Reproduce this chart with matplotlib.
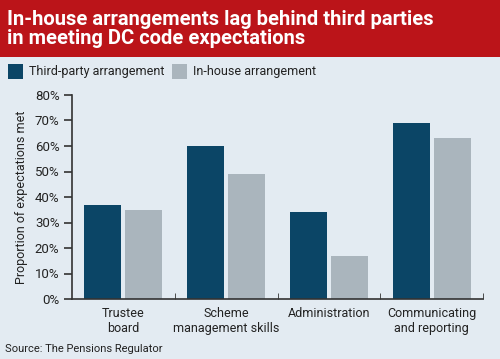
import matplotlib.pyplot as plt
from matplotlib.patches import Rectangle
import numpy as np

categories = ['Trustee\nboard', 'Scheme\nmanagement skills', 'Administration', 'Communicating\nand reporting']
third_party = [37, 60, 34, 69]
in_house = [35, 49, 17, 63]
yticks = [0, 10, 20, 30, 40, 50, 60, 70, 80]

bg = '#e3ebf2'
red = '#bb1419'
dark = '#0b4566'
grey = '#aab5bd'
txt = '#222222'

plt.rcParams['font.family'] = ['Roboto', 'DejaVu Sans']

fig = plt.figure(figsize=(5, 3.59), dpi=100, facecolor=bg)

# title bar
fig.patches.append(Rectangle((0, 1 - 57/359), 1, 57/359, transform=fig.transFigure,
                             facecolor=red, edgecolor='none'))
fig.text(7/500, 1 - 29/359, 'In-house arrangements lag behind third parties\nin meeting DC code expectations',
         color='white', fontsize=14.5, fontweight='bold', va='center', ha='left', linespacing=1.05)

# legend
for x0, col, lab in [(8, dark, 'Third-party arrangement'), (172, grey, 'In-house arrangement')]:
    fig.patches.append(Rectangle((x0/500, 1 - 79/359), 15/500, 15/359, transform=fig.transFigure,
                                 facecolor=col, edgecolor='none'))
    fig.text((x0 + 21)/500, 1 - 71/359, lab, fontsize=9, color=txt, va='center', ha='left')

ax = fig.add_axes([72/500, 1 - 299/359, 411/500, 204/359])
ax.set_facecolor(bg)

x = np.arange(len(categories)) + 0.5
w = 0.36
ax.bar(x - 0.2, third_party, w, color=dark)
ax.bar(x + 0.2, in_house, w, color=grey)

ax.set_xlim(0, 4)
ax.set_ylim(0, 80)
ax.set_yticks(yticks)
ax.set_yticklabels([f'{v}%' for v in yticks], fontsize=9.5, color=txt)
ax.set_xticks(x)
ax.set_xticklabels(categories, fontsize=9, color=txt, linespacing=1.2)
ax.tick_params(axis='x', length=0, pad=6)
ax.set_xticks([1, 2, 3, 4], minor=True)
ax.tick_params(axis='x', which='minor', direction='in', length=4, color='#333333')
ax.tick_params(axis='y', length=6, width=1.2, color='#333333', pad=3)

for s in ['top', 'right']:
    ax.spines[s].set_visible(False)
for s in ['left', 'bottom']:
    ax.spines[s].set_color('#333333')
    ax.spines[s].set_linewidth(1.2)

ax.set_ylabel('Proportion of expectations met', fontsize=9, color=txt, labelpad=5)

fig.text(5/500, 1 - 349/359, 'Source: The Pensions Regulator', fontsize=8, color=txt, va='center', ha='left')

fig.savefig('out.png', dpi=100, facecolor=bg)
